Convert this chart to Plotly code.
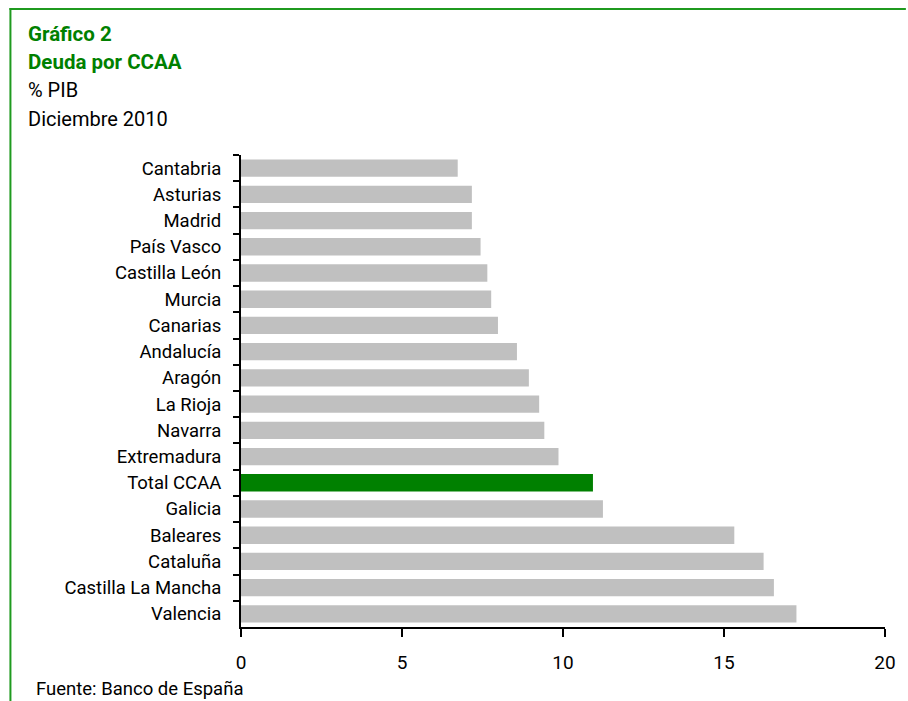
import plotly.graph_objects as go

categories = ["Cantabria", "Asturias", "Madrid", "País Vasco", "Castilla León", "Murcia",
              "Canarias", "Andalucía", "Aragón", "La Rioja", "Navarra", "Extremadura",
              "Total CCAA", "Galicia", "Baleares", "Cataluña", "Castilla La Mancha", "Valencia"]
deuda_pib = [6.73, 7.17, 7.17, 7.44, 7.65, 7.77, 7.98, 8.57, 8.94, 9.26, 9.42, 9.86,
             10.93, 11.24, 15.32, 16.23, 16.55, 17.25]
x_ticks = [0, 5, 10, 15, 20]
highlight = "Total CCAA"

GREEN = "#008000"
GRAY = "#C0C0C0"
FONT = "Roboto, Arial, sans-serif"

W, H = 908, 701
L, R, T, B = 241, 19, 155, 74
PW, PH = W - L - R, H - T - B

def px(x):
    return (x - L) / PW

def py(y):
    return (H - B - y) / PH

colors = [GREEN if c == highlight else GRAY for c in categories]

fig = go.Figure(go.Bar(
    y=categories, x=deuda_pib, orientation="h",
    marker=dict(color=colors, line=dict(width=0)),
    hoverinfo="skip",
))

annotations = [
    dict(text="<b>Gráfico 2</b>", x=px(25), y=py(34), font=dict(size=20.5, color=GREEN)),
    dict(text="<b>Deuda por CCAA</b>", x=px(25), y=py(62), font=dict(size=20.5, color=GREEN)),
    dict(text="% PIB", x=px(25), y=py(90), font=dict(size=20, color="#000000")),
    dict(text="Diciembre 2010", x=px(25), y=py(119), font=dict(size=20, color="#000000")),
    dict(text="Fuente: Banco de España", x=px(33), y=py(689), font=dict(size=18.5, color="#000000")),
]
for a in annotations:
    a.update(xref="paper", yref="paper", xanchor="left", yanchor="middle", showarrow=False)

shapes = [
    dict(type="line", xref="paper", yref="paper", x0=px(8), x1=px(910), y0=py(9), y1=py(9),
         line=dict(color="#1f9a1f", width=2)),
    dict(type="line", xref="paper", yref="paper", x0=px(9), x1=px(9), y0=py(8), y1=py(705),
         line=dict(color="#1f9a1f", width=2)),
]

fig.update_layout(
    width=W, height=H,
    margin=dict(l=L, r=R, t=T, b=B, pad=0),
    paper_bgcolor="white", plot_bgcolor="white",
    font=dict(family=FONT, size=18, color="#000000"),
    bargap=0.34,
    showlegend=False,
    annotations=annotations,
    shapes=shapes,
    xaxis=dict(
        range=[0, 20], tickvals=x_ticks, ticktext=[str(v) for v in x_ticks],
        showgrid=False, zeroline=False,
        showline=True, linecolor="#000000", linewidth=2,
        ticks="outside", ticklen=8, tickwidth=2, tickcolor="#000000",
        ticklabelstandoff=9,
        tickfont=dict(size=19),
        fixedrange=True,
    ),
    yaxis=dict(
        type="category",
        range=[len(categories) - 0.5, -0.5],
        showgrid=False, zeroline=False,
        showline=True, linecolor="#000000", linewidth=2,
        ticks="outside", ticklen=6, tickwidth=2, tickcolor="#000000",
        tickson="boundaries",
        ticklabelstandoff=14,
        tickfont=dict(size=18.5),
        fixedrange=True,
    ),
)

fig.write_html("out.html", config={"displayModeBar": False, "staticPlot": True},
               post_script="document.body.style.margin='0';")
